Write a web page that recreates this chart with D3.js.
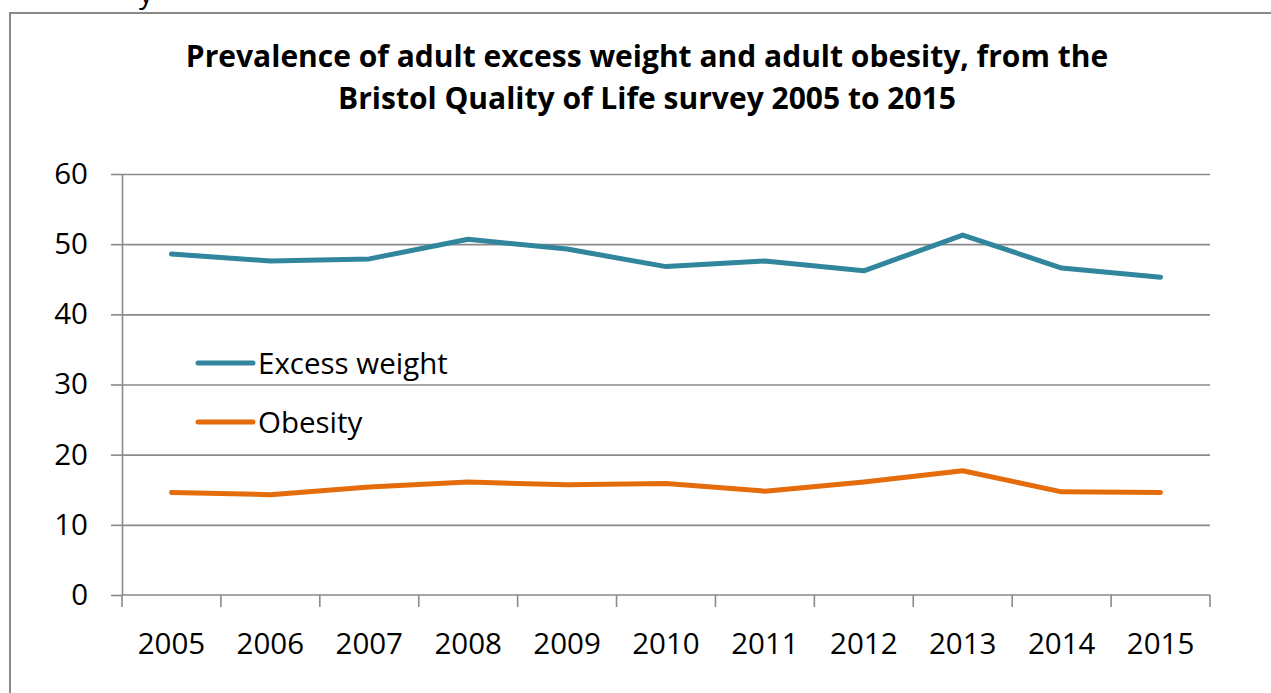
<!DOCTYPE html>
<html>
<head>
<meta charset="utf-8">
<script src="https://cdn.jsdelivr.net/npm/d3@7"></script>
<style>
  html, body { margin: 0; padding: 0; background: #fff; }
  svg { display: block; font-family: "Open Sans", "Noto Sans", sans-serif; }
</style>
</head>
<body>
<svg id="chart" width="1271" height="693"></svg>
<script>
// Survey years and prevalence (%) of each measure
const years = ["2005", "2006", "2007", "2008", "2009", "2010", "2011", "2012", "2013", "2014", "2015"];
const excessWeight = [48.6, 47.6, 47.9, 50.7, 49.3, 46.8, 47.6, 46.2, 51.3, 46.6, 45.3];
const obesity = [14.6, 14.3, 15.4, 16.1, 15.7, 15.9, 14.8, 16.1, 17.7, 14.7, 14.6];
const yTicks = [0, 10, 20, 30, 40, 50, 60];
const seriesNames = ["Excess weight", "Obesity"];
const seriesColors = ["#31859C", "#E46C0A"];
const titleLines = [
  "Prevalence of adult excess weight and adult obesity, from the",
  "Bristol Quality of Life survey 2005 to 2015"
];

const svg = d3.select("#chart");
const grid = "#8a8a8a";
const labelSize = 29.5;

// Outer chart frame
svg.append("path")
  .attr("d", "M10,700 V13 H1280")
  .attr("fill", "none").attr("stroke", grid).attr("stroke-width", 2);

// Tail of a heading sitting above the frame
svg.append("text").attr("x", 139).attr("y", 3)
  .attr("font-size", 28).attr("fill", "#000").text("y");

const x = d3.scaleBand().domain(years).range([122, 1210]);
const y = d3.scaleLinear().domain([0, 60]).range([595, 174]);

// Title
svg.append("g").selectAll("text").data(titleLines).join("text")
  .attr("x", 647).attr("y", (d, i) => 67 + i * 42)
  .attr("text-anchor", "middle")
  .attr("font-size", 30).attr("font-weight", "bold").attr("fill", "#000")
  .text(d => d);

// Horizontal gridlines with left tick marks and labels
const yAxis = svg.append("g").attr("transform", "translate(122,0)")
  .call(d3.axisLeft(y).tickValues(yTicks).tickSizeInner(11).tickSizeOuter(0).tickPadding(23).tickFormat(d3.format("d")));
yAxis.select(".domain").attr("stroke", grid).attr("stroke-width", 1.6);
yAxis.selectAll(".tick line").attr("stroke", grid).attr("stroke-width", 1.6);
yAxis.selectAll(".tick text").attr("font-size", labelSize).attr("fill", "#000")
  .attr("font-family", "'Open Sans', 'Noto Sans', sans-serif");
svg.append("g").attr("transform", "translate(122,0)")
  .call(d3.axisLeft(y).tickValues(yTicks.filter(v => v > 0)).tickSize(-(1210 - 122)).tickFormat(""))
  .call(g => g.select(".domain").remove())
  .selectAll(".tick line").attr("stroke", grid).attr("stroke-width", 1.6);

// Category axis: baseline, boundary ticks, year labels
svg.append("line").attr("x1", x.range()[0]).attr("x2", x.range()[1])
  .attr("y1", y(0)).attr("y2", y(0)).attr("stroke", grid).attr("stroke-width", 1.6);
const bounds = years.map(d => x(d)).concat([x.range()[1]]);
svg.append("g").selectAll("line").data(bounds).join("line")
  .attr("x1", d => d).attr("x2", d => d)
  .attr("y1", y(0)).attr("y2", y(0) + 12)
  .attr("stroke", grid).attr("stroke-width", 1.6);
svg.append("g").selectAll("text").data(years).join("text")
  .attr("x", d => x(d) + x.bandwidth() / 2).attr("y", 654)
  .attr("text-anchor", "middle").attr("font-size", labelSize).attr("fill", "#000")
  .text(d => d);

// Series lines
const line = d3.line()
  .x((d, i) => x(years[i]) + x.bandwidth() / 2)
  .y(d => y(d));
[excessWeight, obesity].forEach((vals, k) => {
  svg.append("path").datum(vals)
    .attr("d", line)
    .attr("fill", "none").attr("stroke", seriesColors[k])
    .attr("stroke-width", 5).attr("stroke-linecap", "round").attr("stroke-linejoin", "round");
});

// Legend
const legend = svg.append("g").selectAll("g").data(seriesNames).join("g")
  .attr("transform", (d, i) => `translate(198,${363 + i * 59})`);
legend.append("line").attr("x1", 0).attr("x2", 55)
  .attr("stroke", (d, i) => seriesColors[i]).attr("stroke-width", 5).attr("stroke-linecap", "round");
legend.append("text").attr("x", 60).attr("y", 11)
  .attr("font-size", labelSize).attr("fill", "#000").text(d => d);
</script>
</body>
</html>
